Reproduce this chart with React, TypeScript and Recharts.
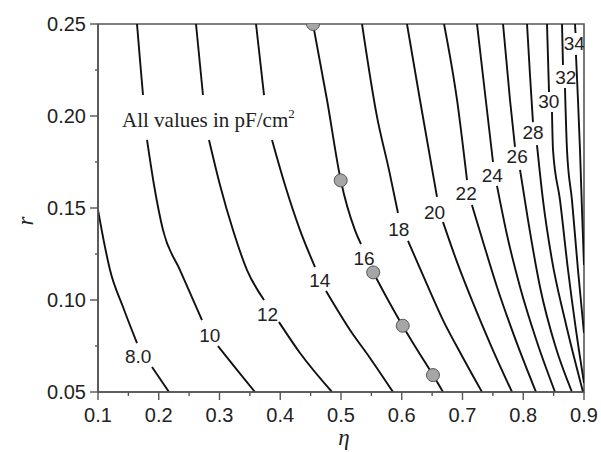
import { ComposedChart, Line, Scatter, XAxis, YAxis, ReferenceArea, Customized } from 'recharts'

// contour segments, [eta, r]; each contour is split where its label sits
const c08 = [
  [[0.1, 0.149], [0.1115, 0.1288], [0.1198, 0.1163], [0.1412, 0.0962], [0.1642, 0.0766]],
  [[0.1889, 0.0636], [0.2169, 0.05]],
]
const c10 = [
  [[0.1642, 0.25], [0.1691, 0.2305], [0.1741, 0.2114]],
  [[0.1807, 0.187], [0.1922, 0.1625], [0.207, 0.138], [0.235, 0.1163], [0.2712, 0.0891]],
  [[0.2975, 0.075], [0.3288, 0.062], [0.3584, 0.05]],
]
const c12 = [
  [[0.2613, 0.25], [0.2728, 0.2114]],
  [[0.2827, 0.187], [0.3008, 0.1625], [0.3222, 0.138], [0.3453, 0.1163], [0.3733, 0.1]],
  [[0.3979, 0.088], [0.4325, 0.0712], [0.4852, 0.05]],
]
const c14 = [
  [[0.3601, 0.25], [0.3733, 0.2114]],
  [[0.3864, 0.187], [0.4078, 0.1625], [0.4325, 0.138], [0.4572, 0.1179]],
  [[0.4753, 0.1049], [0.5148, 0.0837], [0.5477, 0.0685], [0.5856, 0.05]],
]
const c16 = [
  [[0.4539, 0.25], [0.477, 0.2087], [0.4995, 0.1652], [0.523, 0.138], [0.5329, 0.1304]],
  [[0.5527, 0.1152], [0.5774, 0.1], [0.6016, 0.0859], [0.6267, 0.0723], [0.6514, 0.0592], [0.6679, 0.05]],
]
const c18 = [
  [[0.5346, 0.25], [0.5593, 0.1995], [0.579, 0.1707], [0.5938, 0.1473]],
  [[0.6103, 0.1321], [0.6383, 0.1109], [0.6679, 0.0891], [0.6992, 0.0696], [0.7321, 0.05]],
]
const c20 = [
  [[0.6086, 0.25], [0.63, 0.2087], [0.658, 0.156]],
  [[0.6679, 0.1424], [0.6909, 0.1207], [0.7173, 0.0984], [0.7486, 0.0739], [0.7815, 0.05]],
]
const c22 = [
  [[0.6696, 0.25], [0.691, 0.2087], [0.7074, 0.1652]],
  [[0.7156, 0.1516], [0.7354, 0.1299], [0.7568, 0.1071], [0.7864, 0.0793], [0.821, 0.05]],
]
const c24 = [
  [[0.7239, 0.25], [0.737, 0.2125], [0.7502, 0.175]],
  [[0.7568, 0.162], [0.7733, 0.1353], [0.7947, 0.1071], [0.8226, 0.0772], [0.8523, 0.05]],
]
const c26 = [
  [[0.7667, 0.25], [0.7782, 0.2087], [0.7864, 0.1832]],
  [[0.7947, 0.1707], [0.8078, 0.1435], [0.8276, 0.1071], [0.8523, 0.0755], [0.8802, 0.05]],
]
const c28 = [
  [[0.8062, 0.25], [0.8111, 0.2223], [0.816, 0.1967]],
  [[0.8226, 0.1842], [0.8325, 0.1543], [0.8473, 0.1217], [0.8687, 0.0891], [0.8984, 0.05]],
]
const c30 = [
  [[0.8391, 0.25], [0.8424, 0.213]],
  [[0.8473, 0.2022], [0.849, 0.1815], [0.8605, 0.1543], [0.8737, 0.1163], [0.8868, 0.0837], [0.9, 0.0549]],
]
const c32 = [
  [[0.8638, 0.25], [0.8654, 0.2277]],
  [[0.8687, 0.2152], [0.872, 0.1815], [0.8802, 0.1543], [0.8901, 0.1163], [0.9, 0.0821]],
]
const c34 = [
  [[0.8852, 0.25], [0.886, 0.2451]],
  [[0.8868, 0.2332], [0.8901, 0.2087], [0.8934, 0.1815], [0.8967, 0.1489], [0.9, 0.119]],
]
const contours = [c08, c10, c12, c14, c16, c18, c20, c22, c24, c26, c28, c30, c32, c34]

const contourLabels = [
  { text: '8.0', eta: 0.166, r: 0.0696 },
  { text: '10', eta: 0.284, r: 0.081 },
  { text: '12', eta: 0.379, r: 0.0925 },
  { text: '14', eta: 0.465, r: 0.111 },
  { text: '16', eta: 0.538, r: 0.123 },
  { text: '18', eta: 0.595, r: 0.1385 },
  { text: '20', eta: 0.654, r: 0.148 },
  { text: '22', eta: 0.706, r: 0.158 },
  { text: '24', eta: 0.749, r: 0.168 },
  { text: '26', eta: 0.79, r: 0.178 },
  { text: '28', eta: 0.816, r: 0.191 },
  { text: '30', eta: 0.842, r: 0.208 },
  { text: '32', eta: 0.87, r: 0.221 },
  { text: '34', eta: 0.884, r: 0.2395 },
]

const markers = [
  { eta: 0.454, r: 0.25 },
  { eta: 0.4995, r: 0.165 },
  { eta: 0.553, r: 0.115 },
  { eta: 0.6016, r: 0.086 },
  { eta: 0.6514, r: 0.0592 },
]

const xTicks = [0.1, 0.15, 0.2, 0.25, 0.3, 0.35, 0.4, 0.45, 0.5, 0.55, 0.6, 0.65, 0.7, 0.75, 0.8, 0.85, 0.9]
const yTicks = [0.05, 0.075, 0.1, 0.125, 0.15, 0.175, 0.2, 0.225, 0.25]

const sans = '"Liberation Sans", Arial, Helvetica, sans-serif'
const serif = '"Liberation Serif", "Times New Roman", serif'
const axisGray = '#555'

const toPts = (seg: number[][]) => seg.map(([eta, r]) => ({ eta, r }))

function XTick({ x, y, payload }: any) {
  const v = payload.value
  const major = Math.round(v * 100) % 10 === 0
  return (
    <g>
      <line x1={x} y1={y} x2={x} y2={y + (major ? 8 : 4)} stroke={axisGray} strokeWidth={1.4} />
      {major && (
        <text x={x} y={y + 30} textAnchor="middle" fontFamily={sans} fontSize={20} fill="#222">
          {v.toFixed(1)}
        </text>
      )}
    </g>
  )
}

function YTick({ x, y, payload }: any) {
  const v = payload.value
  const major = Math.round(v * 1000) % 50 === 0
  return (
    <g>
      <line x1={x} y1={y} x2={x - (major ? 8 : 3)} y2={y} stroke={axisGray} strokeWidth={1.4} />
      {major && (
        <text x={x - 12} y={y} dy="0.36em" textAnchor="end" fontFamily={sans} fontSize={20} fill="#222">
          {v.toFixed(2)}
        </text>
      )}
    </g>
  )
}

function LabelText({ cx, cy, payload }: any) {
  return (
    <text x={cx} y={cy} dy="0.36em" textAnchor="middle" fontFamily={sans} fontSize={19} fill="#222">
      {payload.text}
    </text>
  )
}

function Marker({ cx, cy }: any) {
  return <circle cx={cx} cy={cy} r={6.5} fill="#a6a6a6" stroke="#555" strokeWidth={1} />
}

function Note() {
  return (
    <text x={122} y={127} fontFamily={serif} fontSize={21} fill="#222">
      All values in pF/cm
      <tspan dy={-9} fontSize={13}>2</tspan>
    </text>
  )
}

export default function App() {
  return (
    <div style={{ position: 'absolute', left: 0, top: 0, background: '#fff' }}>
      <ComposedChart width={601} height={452} margin={{ top: 24, right: 17, bottom: 0, left: 0 }}>
        <XAxis
          dataKey="eta"
          type="number"
          domain={[0.1, 0.9]}
          ticks={xTicks}
          interval={0}
          height={60}
          tickLine={false}
          tickSize={0}
          tickMargin={0}
          tick={<XTick />}
          axisLine={{ stroke: axisGray, strokeWidth: 1.6 }}
          allowDataOverflow
          label={{
            content: () => (
              <text x={344} y={445} textAnchor="middle" fontFamily={serif} fontStyle="italic" fontSize={23} fill="#222">
                η
              </text>
            ),
          }}
        />
        <YAxis
          dataKey="r"
          type="number"
          domain={[0.05, 0.25]}
          ticks={yTicks}
          interval={0}
          width={98}
          tickLine={false}
          tickSize={0}
          tickMargin={0}
          tick={<YTick />}
          axisLine={{ stroke: axisGray, strokeWidth: 1.6 }}
          allowDataOverflow
          label={{
            content: () => (
              <text
                x={33}
                y={221}
                transform="rotate(-90, 33, 221)"
                textAnchor="middle"
                fontFamily={serif}
                fontStyle="italic"
                fontSize={23}
                fill="#222"
              >
                r
              </text>
            ),
          }}
        />
        {contours.map((c, i) =>
          c.map((seg, j) => (
            <Line
              key={`c${i}-${j}`}
              data={toPts(seg)}
              dataKey="r"
              type="monotone"
              stroke="#111"
              strokeWidth={1.9}
              dot={false}
              activeDot={false}
              isAnimationActive={false}
            />
          ))
        )}
        <ReferenceArea x1={0.1} x2={0.9} y1={0.05} y2={0.25} fill="none" stroke={axisGray} strokeWidth={1.6} />
        <Scatter data={markers} shape={<Marker />} isAnimationActive={false} />
        <Scatter data={contourLabels} shape={<LabelText />} isAnimationActive={false} />
        <Customized component={Note} />
      </ComposedChart>
    </div>
  )
}
